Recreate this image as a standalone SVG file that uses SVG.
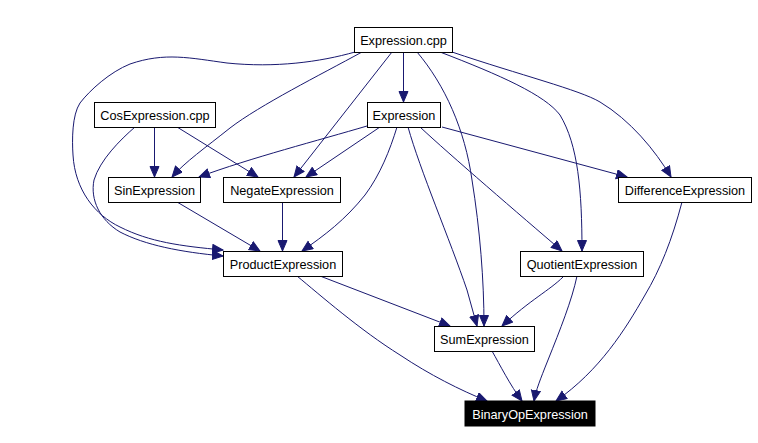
<svg xmlns="http://www.w3.org/2000/svg" width="758" height="443" viewBox="0 0 758 443">
<style>
.n rect{fill:#fff;stroke:#000;stroke-width:1}
.n text{font-family:"Liberation Sans",Arial,sans-serif;font-size:12.7px;text-anchor:middle;fill:#000}
#binop rect{fill:#000}
#binop text{fill:#fff}
.e path{fill:none;stroke:#191970;stroke-width:1;marker-end:url(#ah)}
</style>
<defs>
<marker id="ah" markerUnits="userSpaceOnUse" markerWidth="12" markerHeight="11" refX="11" refY="5" orient="auto">
<path d="M0.5,0.5 L11,5 L0.5,9.5 z" fill="#191970" stroke="#191970" stroke-width="1"/>
</marker>
</defs>
<rect width="758" height="443" fill="#fff"/>
<g id="edges" class="e">
<path d="M403.5,52.5 L403.5,102"/>
<path d="M355,52 C320,62 275,68 227,63 C190,58 165,52 130,64 C110,72 90,90 80,103 C72,115 72,140 73,155 C75,190 95,215 120,227 C150,242 180,246 223,250"/>
<path d="M362,52 C320,75 260,105 230,128 C205,148 185,162 172,177"/>
<path d="M392,52 L294,177"/>
<path d="M417,52 C445,85 465,130 472,180 C480,230 484,280 484,326"/>
<path d="M440,52 C500,75 545,95 560,115 C578,145 582,190 582,251"/>
<path d="M452,52 C520,75 580,90 600,102 C630,120 655,150 671,177"/>
<path d="M367,126 C320,140 250,158 199,177"/>
<path d="M380,127 L306,177"/>
<path d="M397,127 C390,150 380,175 365,195 C345,220 325,235 302,251"/>
<path d="M408,127 C420,170 450,240 467,290 L477,326"/>
<path d="M420,127 C450,155 520,215 562,251"/>
<path d="M442,127 L627,177"/>
<path d="M154.5,127 L154.5,177"/>
<path d="M177,127 L258,177"/>
<path d="M135,127 C120,140 100,160 94,180 C90,200 100,220 120,232 C145,245 180,252 223,256"/>
<path d="M177,202 L260,251"/>
<path d="M282.5,202 L282.5,251"/>
<path d="M320,276 L450,326"/>
<path d="M297,276 C320,295 360,330 400,355 C430,375 460,390 487,401"/>
<path d="M563,277 C550,290 530,300 502,326"/>
<path d="M577,276 C572,300 560,330 548,360 C540,380 536,390 534,401"/>
<path d="M492,351 C500,365 510,385 522,401"/>
<path d="M682,202 C672,240 660,270 645,295 C625,330 600,370 556,401"/>
</g>
<g id="expression_cpp" class="n"><rect x="354.5" y="27.5" width="98" height="25"/><text x="403.5" y="44.5">Expression.cpp</text></g>
<g id="expression" class="n"><rect x="367.5" y="102.5" width="73" height="25"/><text x="404" y="119.5">Expression</text></g>
<g id="cosexpression_cpp" class="n"><rect x="94.5" y="102.5" width="121" height="25"/><text x="155" y="119.5">CosExpression.cpp</text></g>
<g id="sinexpression" class="n"><rect x="108.5" y="177.5" width="92" height="25"/><text x="154.5" y="194.5">SinExpression</text></g>
<g id="negateexpression" class="n"><rect x="223.5" y="177.5" width="117" height="25"/><text x="282" y="194.5">NegateExpression</text></g>
<g id="differenceexpression" class="n"><rect x="618.5" y="177.5" width="133" height="25"/><text x="685" y="194.5">DifferenceExpression</text></g>
<g id="productexpression" class="n"><rect x="223.5" y="251.5" width="119" height="25"/><text x="283" y="268.5">ProductExpression</text></g>
<g id="quotientexpression" class="n"><rect x="520.5" y="251.5" width="123" height="25"/><text x="582" y="268.5">QuotientExpression</text></g>
<g id="sumexpression" class="n"><rect x="434.5" y="326.5" width="100" height="25"/><text x="484.5" y="343.5">SumExpression</text></g>
<g id="binop" class="n"><rect x="465" y="401" width="130" height="25"/><text x="530" y="418.5">BinaryOpExpression</text></g>
</svg>
